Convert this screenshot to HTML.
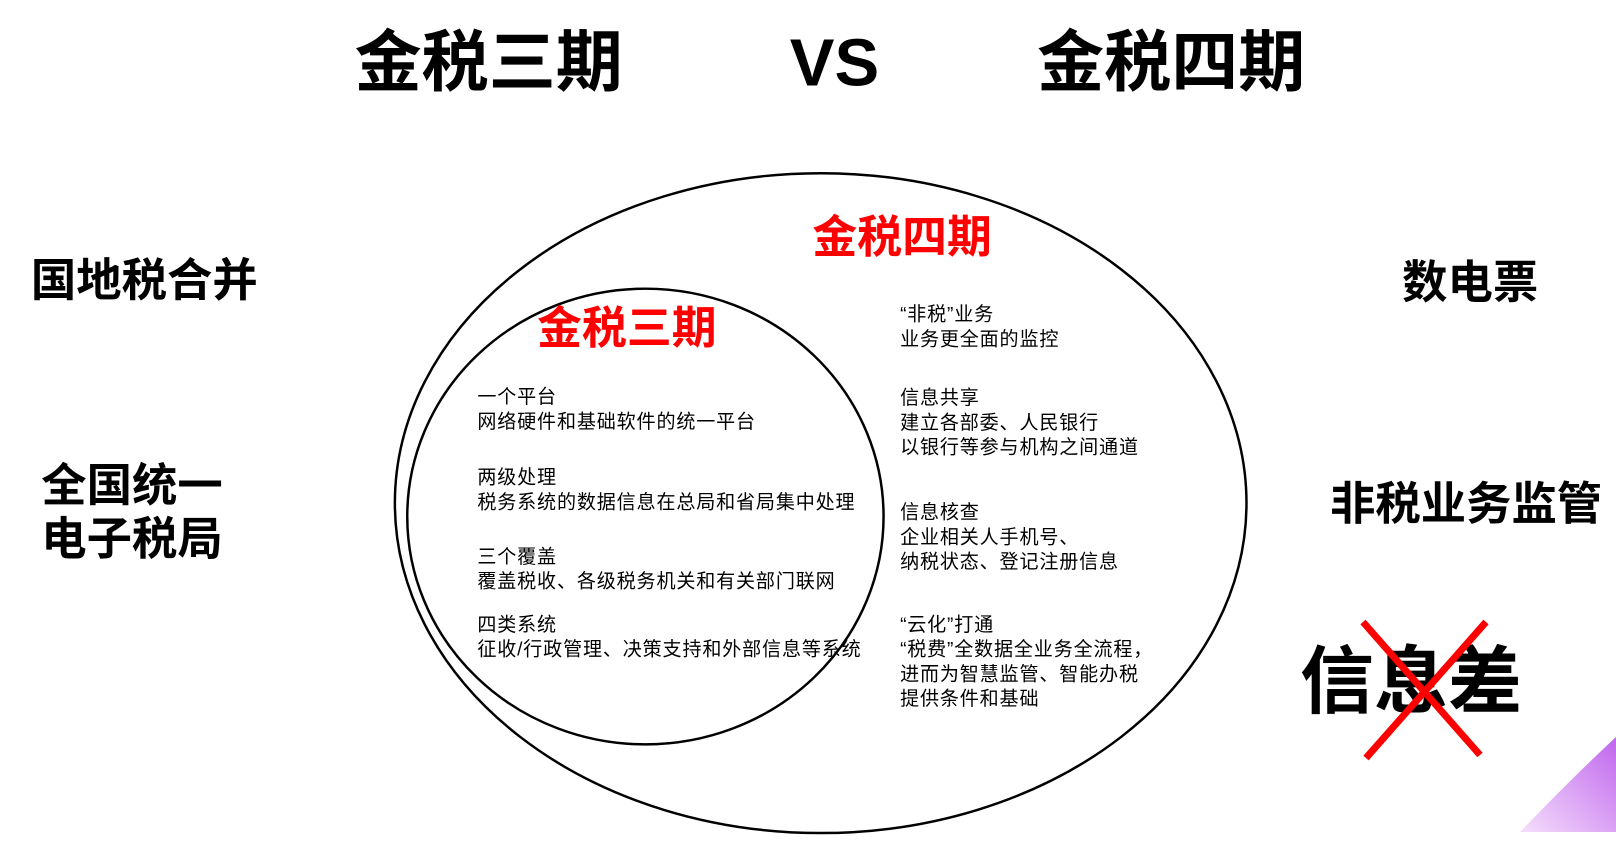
<!DOCTYPE html>
<html><head><meta charset="utf-8"><style>
body{margin:0;width:1616px;height:832px;background:#fff;position:relative;overflow:hidden;font-family:"Liberation Sans","Noto Sans CJK SC",sans-serif}
.w{position:absolute;left:0;top:0;width:1616px;height:832px;transform:scale(1.031);transform-origin:0 0}
.t{position:absolute;white-space:nowrap;line-height:1}
.b{font-weight:bold}
.s{position:absolute;font-size:18.5px;letter-spacing:0.8px;line-height:24px;color:#000;white-space:nowrap}
</style></head><body>
<svg width="1616" height="832" style="position:absolute;left:0;top:0">
<defs><linearGradient id="g" x1="0" y1="1" x2="1" y2="0"><stop offset="0" stop-color="#f3d7fb"/><stop offset="1" stop-color="#b040e8"/></linearGradient></defs>
<path d="M1520 832 Q1575 775 1616 737 L1616 832 Z" fill="url(#g)" opacity="0.8"/>
</svg>
<div class="w">
<svg width="1616" height="832" style="position:absolute;left:0;top:0">
<ellipse cx="796" cy="488" rx="413" ry="320" fill="none" stroke="#000" stroke-width="2.4"/>
<ellipse cx="626" cy="501" rx="231" ry="221" fill="none" stroke="#000" stroke-width="2.4"/>
</svg>
<div class="t b" style="left:344px;top:28px;font-size:65px">金税三期</div>
<div class="t b" style="left:766px;top:28px;font-size:65px">VS</div>
<div class="t b" style="left:1006px;top:28px;font-size:65px">金税四期</div>
<div class="t b" style="left:30px;top:251px;font-size:44px">国地税合并</div>
<div class="t b" style="left:40px;top:446px;font-size:44px;line-height:52px">全国统一<br>电子税局</div>
<div class="t b" style="left:1360px;top:253px;font-size:44px">数电票</div>
<div class="t b" style="left:1290px;top:468px;font-size:44px">非税业务监管</div>
<div class="t b" style="left:788px;top:210px;font-size:43.5px;color:#f00">金税四期</div>
<div class="t b" style="left:521px;top:298px;font-size:43.5px;color:#f00">金税三期</div>
<div class="s" style="left:463px;top:373px">一个平台<br>网络硬件和基础软件的统一平台</div>
<div class="s" style="left:463px;top:451px">两级处理<br>税务系统的数据信息在总局和省局集中处理</div>
<div class="s" style="left:463px;top:528px">三个覆盖<br>覆盖税收、各级税务机关和有关部门联网</div>
<div class="s" style="left:463px;top:594px">四类系统<br>征收/行政管理、决策支持和外部信息等系统</div>
<div class="s" style="left:873px;top:293px">“非税”业务<br>业务更全面的监控</div>
<div class="s" style="left:873px;top:374px">信息共享<br>建立各部委、人民银行<br>以银行等参与机构之间通道</div>
<div class="s" style="left:873px;top:485px">信息核查<br>企业相关人手机号、<br>纳税状态、登记注册信息</div>
<div class="s" style="left:873px;top:594px">“云化”打通<br>“税费”全数据全业务全流程，<br>进而为智慧监管、智能办税<br>提供条件和基础</div>
</div>
<div class="t b" style="left:1300px;top:645px;font-size:74px">信息差</div>
<svg width="1616" height="832" style="position:absolute;left:0;top:0">
<line x1="1363" y1="622" x2="1480" y2="755" stroke="#f00" stroke-width="7"/>
<line x1="1486" y1="622" x2="1366" y2="758" stroke="#f00" stroke-width="7"/>
</svg>
</body></html>
